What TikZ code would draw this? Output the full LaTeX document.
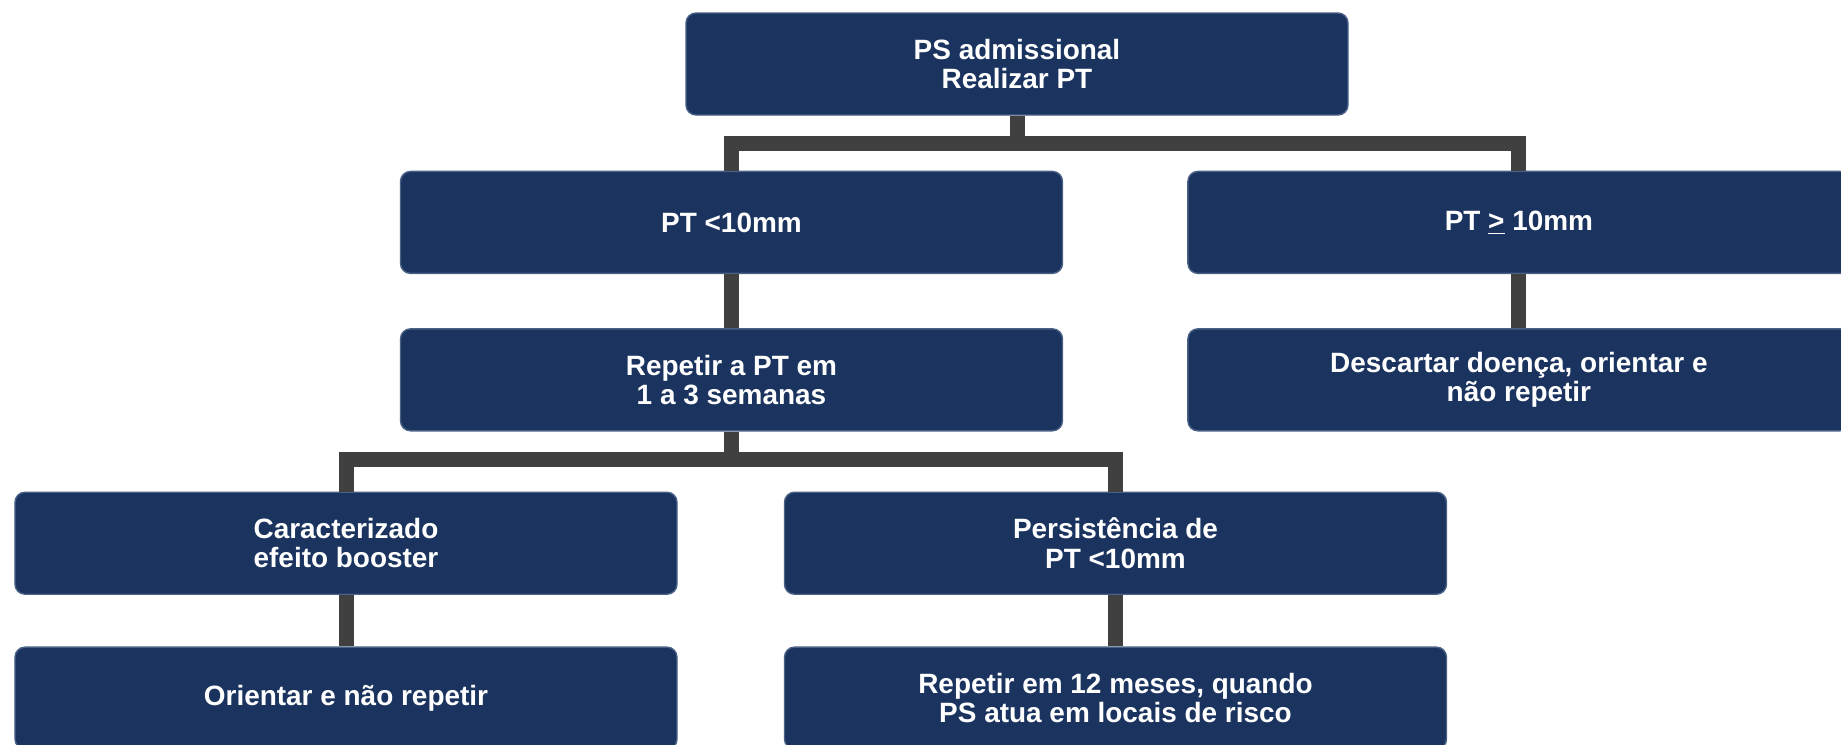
\documentclass[tikz,border=0pt]{standalone}
\usepackage{fontspec}
\setmainfont{Liberation Sans}
\usepackage{xcolor}
\usepackage{tikz}
\usetikzlibrary{positioning, calc}
\definecolor{blocknavy}{HTML}{1B345F}
\definecolor{blockedge}{HTML}{4A6186}
\definecolor{linkgray}{HTML}{404040}
\newcommand{\blockfont}{\fontsize{15.9pt}{16.6pt}\selectfont\bfseries}
\tikzset{
    block/.style={
        rectangle,
        rounded corners=2mm,
        line width=0.8pt,
        draw=blockedge,
        fill=blocknavy,
        text=white,
        align=center,
        font=\blockfont,
        minimum width=13.24cm,
        minimum height=2.04cm,
    },
    link/.style={
        draw=linkgray,
        line width=0.3cm,
    },
}

\begin{document}
\begin{tikzpicture}
      \useasboundingbox (0,0) rectangle (36.82,-14.88);
      \clip (0,0) rectangle (36.82,-14.88);

      \node [block] (Adm) at (20.34,-1.28) {PS admissional\\Realizar PT};
      \node [block] (Less) [below=1.10cm of Adm, xshift=-5.71cm] {PT <10mm};
      \node [block] (More) [right=2.48cm of Less] {PT \underline{>} 10mm};

      \node [block] (Repeat) [below=1.08cm of Less] {Repetir a PT em\\1 a 3 semanas};
      \node [block] (Discard) [below=1.08cm of More] {Descartar doença, orientar e\\não repetir};

      \node [block] (Booster) [below=1.20cm of Repeat, xshift=-7.71cm] {Caracterizado\\efeito booster};
      \node [block] (Persist) [below=1.20cm of Repeat, xshift=7.68cm] {Persistência de\\PT <10mm};

      \node [block] (Orient) [below=1.03cm of Booster] {Orientar e não repetir};
      \node [block] (Year) [below=1.03cm of Persist] {Repetir em 12 meses, quando\\PS  atua em locais de risco};

      \coordinate [below=0.56cm of Adm] (split-Adm);
      \coordinate [below=0.56cm of Repeat] (split-Repeat);

      \draw[link] (Adm) -- (split-Adm) -| (Less);
      \draw[link] (split-Adm) -| (More);
      \draw[link] (Less) -- (Repeat);
      \draw[link] (More) -- (Discard);
      \draw[link] (Repeat) -- (split-Repeat) -| (Booster);
      \draw[link] (split-Repeat) -| (Persist);
      \draw[link] (Booster) -- (Orient);
      \draw[link] (Persist) -- (Year);
    \end{tikzpicture}
\end{document}
